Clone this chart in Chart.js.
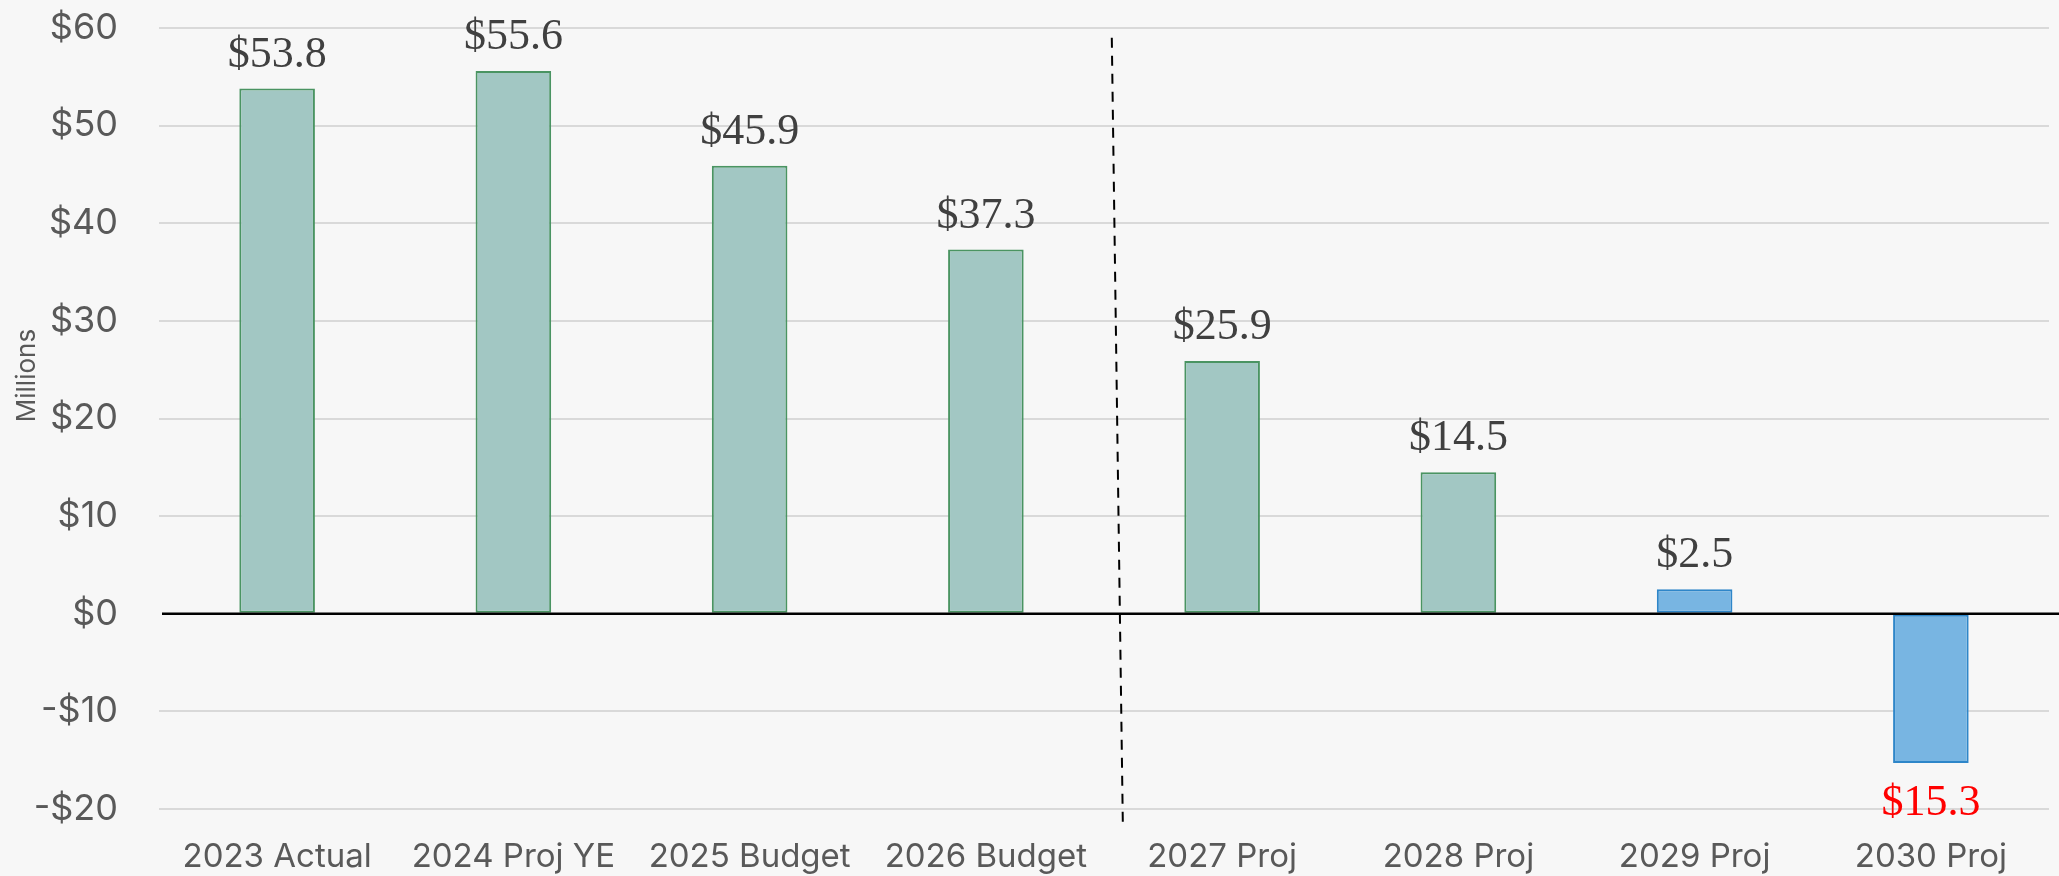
<!DOCTYPE html>
<html>
<head>
<meta charset="utf-8">
<script src="https://cdn.jsdelivr.net/npm/chart.js@4.4.1/dist/chart.umd.min.js"></script>
<style>
  html, body { margin: 0; padding: 0; background: #f7f7f7; }
  canvas { display: block; background: #f7f7f7; }
</style>
</head>
<body>
<canvas id="fundChart" width="2059" height="876"></canvas>
<script>
// fund balance by year, in millions
const categories = ['2023 Actual', '2024 Proj YE', '2025 Budget', '2026 Budget', '2027 Proj', '2028 Proj', '2029 Proj', '2030 Proj'];
const balances = [53.8, 55.6, 45.9, 37.3, 25.9, 14.5, 2.5, -15.3];
const yTicks = [-20, -10, 0, 10, 20, 30, 40, 50, 60];
const dividerAfter = 3; // dashed line between actual/budget and projections

const GREEN_FILL = '#a2c7c3', GREEN_EDGE = '#4a9462';
const BLUE_FILL = '#78b5e2', BLUE_EDGE = '#2e86c9';

function money(v) {
    return (v < 0 ? '-$' : '$') + Math.abs(v);
}

// value labels above / below bars
const valueLabels = {
    id: 'valueLabels',
    afterDatasetsDraw(chart) {
        const ctx = chart.ctx;
        const meta = chart.getDatasetMeta(0);
        ctx.save();
        ctx.font = '44px "Liberation Serif", "Times New Roman", serif';
        ctx.textAlign = 'center';
        ctx.textBaseline = 'alphabetic';
        meta.data.forEach((bar, i) => {
            const v = balances[i];
            const txt = '$' + Math.abs(v).toFixed(1);
            if (v >= 0) {
                ctx.fillStyle = '#404040';
                ctx.fillText(txt, bar.x, bar.y - 22);
            } else {
                ctx.fillStyle = '#ff0000';
                ctx.fillText(txt, bar.x, bar.y + 52);
            }
        });
        ctx.restore();
    }
};

// zero line, dashed divider, axis title
const extras = {
    id: 'extras',
    afterDatasetsDraw(chart) {
        const ctx = chart.ctx;
        const x = chart.scales.x, y = chart.scales.y;
        const y0 = y.getPixelForValue(0);
        ctx.save();
        ctx.strokeStyle = '#000';
        ctx.lineWidth = 2.5;
        ctx.beginPath();
        ctx.moveTo(x.left + 3, y0);
        ctx.lineTo(chart.width, y0);
        ctx.stroke();

        ctx.lineWidth = 2;
        ctx.setLineDash([10, 8]);
        ctx.beginPath();
        ctx.moveTo(x.getPixelForValue(dividerAfter + 0.533), y.getPixelForValue(59));
        ctx.lineTo(x.getPixelForValue(dividerAfter + 0.58), chart.chartArea.bottom + 20);
        ctx.stroke();

        // "Millions" sits a bit above the axis middle in the original
        ctx.translate(27, y.getPixelForValue(24.4));
        ctx.rotate(-Math.PI / 2);
        ctx.fillStyle = '#595959';
        ctx.font = '26px Inter, "Liberation Sans", sans-serif';
        ctx.textAlign = 'center';
        ctx.textBaseline = 'middle';
        ctx.fillText('Millions', 0, 0);
        ctx.restore();
    }
};

new Chart(document.getElementById('fundChart').getContext('2d'), {
    type: 'bar',
    data: {
        labels: categories,
        datasets: [{
            data: balances,
            backgroundColor: balances.map((v, i) => i >= 6 ? BLUE_FILL : GREEN_FILL),
            borderColor: balances.map((v, i) => i >= 6 ? BLUE_EDGE : GREEN_EDGE),
            borderWidth: 2,
            borderSkipped: false,
            barPercentage: 0.32,
            categoryPercentage: 1
        }]
    },
    options: {
        responsive: false,
        animation: false,
        layout: { padding: { top: 28, right: 10, bottom: 0, left: 0 } },
        plugins: {
            legend: { display: false },
            tooltip: { enabled: false }
        },
        scales: {
            x: {
                grid: { display: false },
                border: { display: false },
                ticks: {
                    color: '#595959',
                    font: { family: 'Inter, "Liberation Sans", sans-serif', size: 33 },
                    padding: 20,
                    maxRotation: 0,
                    autoSkip: false
                },
                afterFit: s => { s.height = 67; s.paddingLeft = 0; s.paddingRight = 0; }
            },
            y: {
                min: -20,
                max: 60,
                afterBuildTicks: s => { s.ticks = yTicks.map(v => ({ value: v })); },
                grid: {
                    color: ctx => ctx.tick.value === 0 ? 'rgba(0,0,0,0)' : '#d9d9d9',
                    lineWidth: 2,
                    drawTicks: false
                },
                border: { display: false },
                ticks: {
                    color: '#595959',
                    font: { family: 'Inter, "Liberation Sans", sans-serif', size: 36 },
                    padding: 41,
                    callback: v => money(v)
                },
                afterFit: s => { s.width = 159; s.paddingTop = 0; s.paddingBottom = 0; }
            }
        }
    },
    plugins: [valueLabels, extras]
});
</script>
</body>
</html>
